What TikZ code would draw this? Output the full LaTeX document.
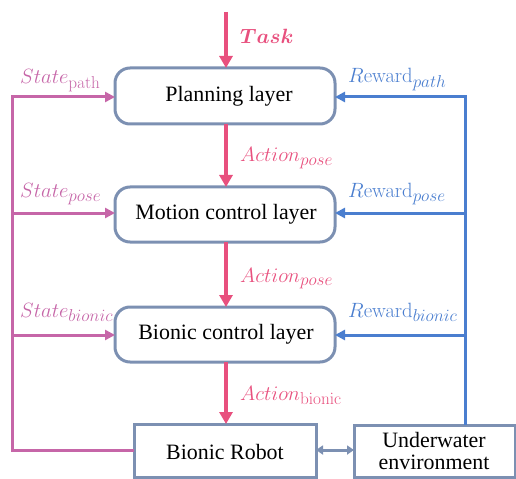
\documentclass[tikz,border=0pt]{standalone}
\usepackage{bm}
\usepackage[no-math]{fontspec}
\setmainfont{Liberation Serif}
\usetikzlibrary{arrows.meta}
\DeclareMathSizes{21.5}{21.5}{16}{12}
\definecolor{actpink}{RGB}{232,80,126}
\definecolor{statepink}{RGB}{198,102,168}
\definecolor{rewblue}{RGB}{74,126,207}
\definecolor{boxgray}{RGB}{124,144,178}
\tikzset{
  layerbox/.style={draw=boxgray, line width=3bp, rounded corners=15bp},
  plainbox/.style={draw=boxgray, line width=3bp},
  boxtext/.style={font=\fontsize{22}{22}\selectfont\rmfamily, align=center},
  actarrow/.style={draw=actpink, line width=3.5bp, -{Triangle[length=12bp,width=13bp]}},
  statearrow/.style={draw=statepink, line width=3bp, -{Triangle[length=10bp,width=10bp]}},
  rewarrow/.style={draw=rewblue, line width=3bp, -{Triangle[length=10bp,width=10bp]}},
  lbl/.style={anchor=base west, inner sep=0pt, font=\fontsize{21.5}{23}\selectfont},
}
\begin{document}
\begin{tikzpicture}[x=1bp,y=-1bp]
\useasboundingbox (0,0) rectangle (516,479);
% boxes
\draw[layerbox] (115,68) rectangle (335,124);
\node[boxtext] (plan) at (229,96) {Planning layer};
\coordinate (planN) at (226,68); \coordinate (planS) at (226,124);
\coordinate (planW) at (115,97); \coordinate (planE) at (335,97);
\draw[layerbox] (115,187) rectangle (335,242);
\node[boxtext] (motion) at (226,214) {Motion control layer};
\coordinate (motN) at (226,187); \coordinate (motS) at (226,242);
\coordinate (motW) at (115,213); \coordinate (motE) at (335,213);
\draw[layerbox] (115,307) rectangle (335,362);
\node[boxtext] (bionic) at (226,334) {Bionic control layer};
\coordinate (bioN) at (226,307); \coordinate (bioS) at (226,362);
\coordinate (bioW) at (115,335); \coordinate (bioE) at (335,335);
\draw[plainbox] (134,424) rectangle (316,477);
\node[boxtext] (robot) at (225,452) {Bionic Robot};
\coordinate (robN) at (226,424); \coordinate (robW) at (134,450); \coordinate (robE) at (316,450);
\draw[plainbox] (354,425) rectangle (515,477);
\node[boxtext] (env) at (434,451) {Underwater\\environment};
\coordinate (envN) at (465,425); \coordinate (envW) at (354,450);
% task and action arrows
\coordinate (taskS) at (226,12);
\draw[actarrow] (taskS) -- (planN);
\draw[actarrow] (planS) -- (motN);
\draw[actarrow] (motS) -- (bioN);
\draw[actarrow] (bioS) -- (robN);
% state feedback
\coordinate (sl1) at (12,450); \coordinate (sl2) at (12,97);
\coordinate (sl3) at (12,213); \coordinate (sl4) at (12,335);
\draw[statearrow] (robW) -- (sl1) -- (sl2) -- (planW);
\draw[statearrow] (sl3) -- (motW);
\draw[statearrow] (sl4) -- (bioW);
% reward feedback
\coordinate (rl1) at (465,97); \coordinate (rl2) at (465,213); \coordinate (rl3) at (465,335);
\draw[rewarrow] (envN) -- (rl1) -- (planE);
\draw[rewarrow] (rl2) -- (motE);
\draw[rewarrow] (rl3) -- (bioE);
% interaction
\draw[draw=boxgray, line width=3bp, {Triangle[length=7bp,width=9bp]}-{Triangle[length=7bp,width=9bp]}] (robE) -- (envW);
% labels
\node[lbl, text=actpink] (ltask) at (240,44) {$\bm{Task}$};
\node[lbl, text=actpink] (la1) at (240,162) {$Action_{pose}$};
\node[lbl, text=actpink] (la2) at (240,282) {$Action_{pose}$};
\node[lbl, text=actpink] (la3) at (240,400) {$Action_{\mathrm{bionic}}$};
\node[lbl, text=statepink] (ls1) at (20,84) {$State_{\mathrm{path}}$};
\node[lbl, text=statepink] (ls2) at (20,198) {$State_{pose}$};
\node[lbl, text=statepink] (ls3) at (20,317) {$State_{bionic}$};
\node[lbl, text=rewblue] (lr1) at (348,83) {$R\mathrm{eward}_{path}$};
\node[lbl, text=rewblue] (lr2) at (348,198) {$R\mathrm{eward}_{pose}$};
\node[lbl, text=rewblue] (lr3) at (348,317) {$R\mathrm{eward}_{bionic}$};
\end{tikzpicture}
\end{document}
